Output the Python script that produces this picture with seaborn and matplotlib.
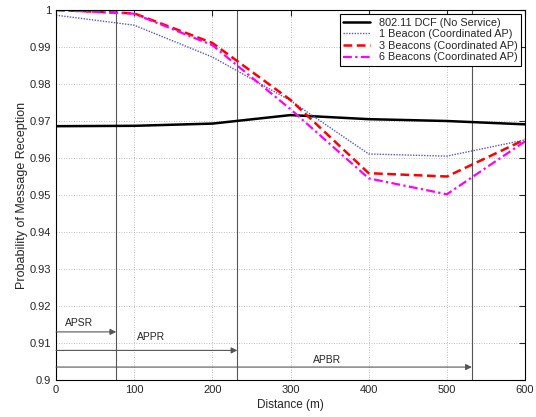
import numpy as np
import pandas as pd
import seaborn as sns
import matplotlib.pyplot as plt
from matplotlib.ticker import FormatStrFormatter

distance = [0, 100, 200, 300, 400, 500, 600]
dcf = [0.9686, 0.9687, 0.9693, 0.9716, 0.9705, 0.9700, 0.9691]
beacon1 = [0.9986, 0.9959, 0.9873, 0.9755, 0.9611, 0.9605, 0.9649]
beacon3 = [1.0000, 0.9991, 0.9911, 0.9757, 0.9559, 0.9550, 0.9650]
beacon6 = [1.0000, 0.9990, 0.9905, 0.9732, 0.9545, 0.9502, 0.9645]

series_names = ['802.11 DCF (No Service)', '1 Beacon (Coordinated AP)',
                '3 Beacons (Coordinated AP)', '6 Beacons (Coordinated AP)']

range_names = ['APSR', 'APPR', 'APBR']
range_ends = [77, 232, 532]
arrow_levels = [0.913, 0.908, 0.9035]
label_pos = [(12, 0.9155), (104, 0.9115), (329, 0.9055)]

sns.set_style('white')
plt.rcParams['font.family'] = ['Liberation Sans', 'DejaVu Sans']

fig = plt.figure(figsize=(5.36, 4.17), dpi=100)
ax = fig.add_axes([0.1045, 0.0887, 0.875, 0.8873])

styles = [
    dict(color='black', linestyle='-', linewidth=1.8),
    dict(color='#5555cc', linestyle=(0, (1, 1)), linewidth=1.0),
    dict(color='#ff0000', linestyle=(0, (3.5, 1.8)), linewidth=1.8),
    dict(color='#ff00ff', linestyle=(0, (4, 1.5, 1, 1.5)), linewidth=1.6),
]
for name, vals, st in zip(series_names, [dcf, beacon1, beacon3, beacon6], styles):
    df = pd.DataFrame({'Distance': distance, 'P': vals})
    sns.lineplot(data=df, x='Distance', y='P', ax=ax, label=name, **st)

# range markers
for name, end, lev, (lx, ly) in zip(range_names, range_ends, arrow_levels, label_pos):
    ax.axvline(end, color='#555555', linewidth=0.8, zorder=1)
    ax.annotate('', xy=(end, lev), xytext=(0, lev),
                arrowprops=dict(arrowstyle='-|>', color='#555555', lw=0.8,
                                mutation_scale=9, shrinkA=0, shrinkB=0))
    ax.text(lx, ly, name, fontsize=7.5, ha='left', va='center')

ax.set_xlim(0, 600)
ax.set_ylim(0.9, 1.0)
ax.set_xticks(np.arange(0, 601, 100))
ax.set_yticks(np.arange(0.9, 1.0001, 0.01))
ax.yaxis.set_major_formatter(FormatStrFormatter('%g'))
ax.grid(True, linestyle=(0, (1, 2)), color='#aaaaaa', linewidth=0.6)
ax.tick_params(direction='in', top=True, right=True, labelsize=8, length=4, width=0.8)
for s in ax.spines.values():
    s.set_color('black')
    s.set_linewidth(0.8)

ax.set_xlabel('Distance (m)', fontsize=8.5, labelpad=3)
ax.set_ylabel('Probability of Message Reception', fontsize=9, labelpad=1)

leg = ax.legend(loc='upper right', fontsize=7.8, frameon=True, fancybox=False,
                edgecolor='black', framealpha=1, borderpad=0.3, labelspacing=0.15,
                handlelength=2.5, borderaxespad=0.4)
leg.get_frame().set_linewidth(0.8)

fig.savefig('out.png', dpi=100)
